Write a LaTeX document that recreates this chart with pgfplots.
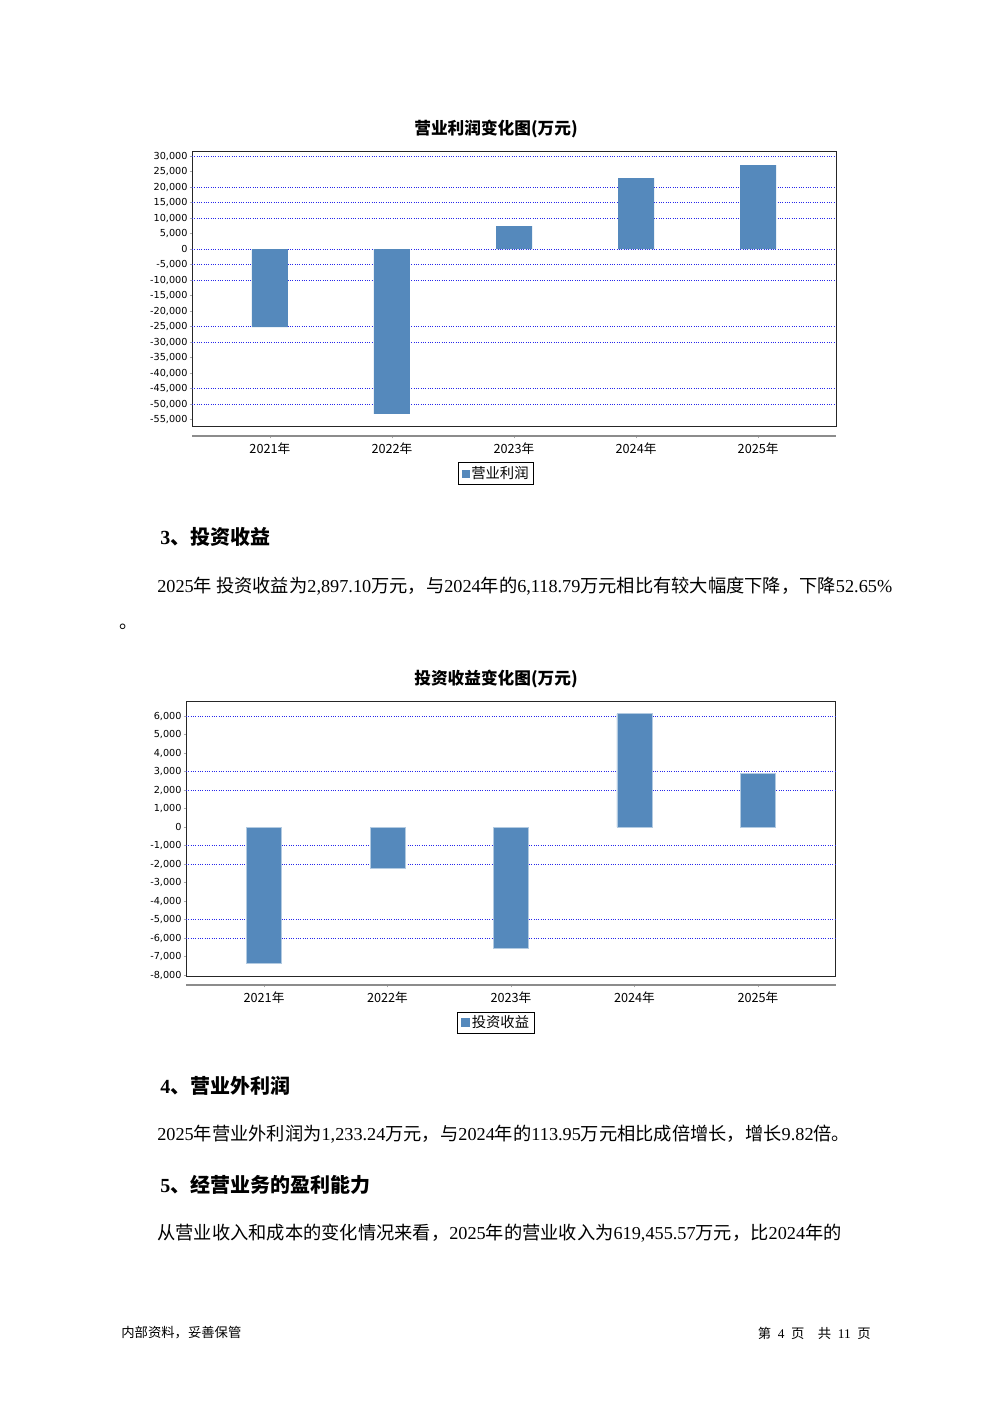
\documentclass[border=0pt]{standalone}
\usepackage{fontspec}
\usepackage{pgfplots}
\pgfplotsset{compat=1.18}
\setmainfont{Liberation Serif}
\newfontfamily\cjk{Noto Sans CJK SC}
\newfontfamily\dejavu{DejaVu Sans}
\newcommand{\zh}[1]{{\cjk #1}}
\definecolor{barblue}{RGB}{85,137,188}
\definecolor{gridblue}{RGB}{40,40,235}
\pgfplotsset{
  pagebox/.style={
    scale only axis,
    axis line style={draw=black!85, line width=0.6pt},
    xtick=\empty,
    ytick pos=left,
    scaled y ticks=false,
    tick align=outside,
    major tick length=1.5pt,
    ytick style={draw=black!35, line width=0.4pt},
    yticklabel style={font=\dejavu\fontsize{5.8}{6.5}\selectfont, inner sep=1pt},
    /pgf/number format/assume math mode=true,
    /pgf/number format/1000 sep={,},
    extra y tick labels={},
    extra y tick style={grid=major, major tick length=0pt,
      major grid style={gridblue, densely dotted, line width=0.5pt}},
    legend style={draw=black, line width=0.6pt, inner xsep=2pt, inner ysep=1pt, outer sep=0pt,
      font=\cjk\fontsize{8.6}{9}\selectfont, anchor=north,
      legend cell align=left, row sep=0pt,
      nodes={inner sep=1pt}},
    legend image code/.code={\fill[barblue] (0pt,-2.4pt) rectangle (4.8pt,2.4pt);},
  },
  catline/.style={
    scale only axis,
    height=1pt, ymin=0, ymax=1,
    axis y line=none,
    axis x line*=bottom,
    x axis line style={draw=black!45, line width=0.8pt, -},
    xtick={0,1,2,3,4},
    xticklabels={2021\zh{年},2022\zh{年},2023\zh{年},2024\zh{年},2025\zh{年}},
    xticklabel style={font=\cjk\fontsize{7.6}{8}\selectfont, inner sep=1pt, yshift=-1.5pt},
    tick align=outside,
    major tick length=1.5pt,
    xtick style={draw=black!35},
  }
}
\begin{document}
\begin{tikzpicture}[x=0.6pt,y=-0.6pt]
\fill[white] (0,0) rectangle (992,1403);

% ---------- Chart 1 ----------
\node[font=\cjk\bfseries\fontsize{10}{12}\selectfont] at (496,129) {营业利润变化图(万元)};
\begin{axis}[pagebox,
  at={(115.2pt,-256.2pt)}, anchor=south west,
  width=386.4pt, height=165pt,
  xmin=-0.638, xmax=4.638,
  ymin=-57400, ymax=31300,
  ytick={-55000,-50000,...,30000},
  extra y ticks={30000,20000,15000,10000,0,-5000,-10000,-25000,-30000,-45000,-50000},
  legend style={at={(0.472,0)}, yshift=-21.6pt},
]
\addplot[ybar, bar width=21.6pt, fill=barblue, draw=none]
  coordinates {(0,-25200) (1,-53200) (2,7400) (3,22900) (4,27100)};
\addlegendentry{营业利润}
\end{axis}
\begin{axis}[catline,
  at={(115.2pt,-261.6pt)}, anchor=south west,
  width=386.4pt, xmin=-0.638, xmax=4.638]
\addplot[draw=none] coordinates {(0,0)};
\end{axis}

% ---------- Section 3 ----------
\node[anchor=west, inner sep=0pt, font=\fontsize{12}{14}\selectfont] at (160,537)
  {\textbf{3}\zh{\bfseries 、投资收益}};
\node[anchor=west, inner sep=0pt, font=\fontsize{10.95}{14}\selectfont] at (157,586)
  {2025\zh{年 投资收益为}2,897.10\zh{万元，与}2024\zh{年的}6,118.79\zh{万元相比有较大幅度下降，下降}52.65\%};
\node[anchor=west, inner sep=0pt, font=\fontsize{11}{14}\selectfont] at (119,627) {\zh{。}};

% ---------- Chart 2 ----------
\node[font=\cjk\bfseries\fontsize{10}{12}\selectfont] at (496,679) {投资收益变化图(万元)};
\begin{axis}[pagebox,
  at={(111.6pt,-585.6pt)}, anchor=south west,
  width=390pt, height=164.4pt,
  xmin=-0.632, xmax=4.632,
  ymin=-8050, ymax=6760,
  ytick={-8000,-7000,...,6000},
  extra y ticks={6000,3000,2000,-1000,-2000,-5000,-6000},
  legend style={at={(0.477,0)}, yshift=-21.6pt},
]
\addplot[ybar, bar width=21pt, fill=barblue, draw=barblue!45!white, line width=0.5pt]
  coordinates {(0,-7350) (1,-2210) (2,-6540) (3,6118.79) (4,2897.10)};
\addlegendentry{投资收益}
\end{axis}
\begin{axis}[catline,
  at={(111.6pt,-591pt)}, anchor=south west,
  width=390pt, xmin=-0.632, xmax=4.632]
\addplot[draw=none] coordinates {(0,0)};
\end{axis}

% ---------- Section 4 ----------
\node[anchor=west, inner sep=0pt, font=\fontsize{12}{14}\selectfont] at (160,1086)
  {\textbf{4}\zh{\bfseries 、营业外利润}};
\node[anchor=west, inner sep=0pt, font=\fontsize{10.95}{14}\selectfont] at (157,1134)
  {2025\zh{年营业外利润为}1,233.24\zh{万元，与}2024\zh{年的}113.95\zh{万元相比成倍增长，增长}9.82\zh{倍。}};

% ---------- Section 5 ----------
\node[anchor=west, inner sep=0pt, font=\fontsize{12}{14}\selectfont] at (160,1185)
  {\textbf{5}\zh{\bfseries 、经营业务的盈利能力}};
\node[anchor=west, inner sep=0pt, font=\fontsize{10.95}{14}\selectfont] at (157,1233)
  {\zh{从营业收入和成本的变化情况来看，}2025\zh{年的营业收入为}619,455.57\zh{万元，比}2024\zh{年的}};

% ---------- Footer ----------
\node[anchor=west, inner sep=0pt, font=\fontsize{8}{10}\selectfont] at (121,1333)
  {\zh{内部资料，妥善保管}};
\node[anchor=east, inner sep=0pt, font=\fontsize{8}{10}\selectfont] at (871,1333)
  {\zh{第}\ \ 4\ \ \zh{页}\quad\zh{共}\ \ 11\ \ \zh{页}};
\end{tikzpicture}
\end{document}
